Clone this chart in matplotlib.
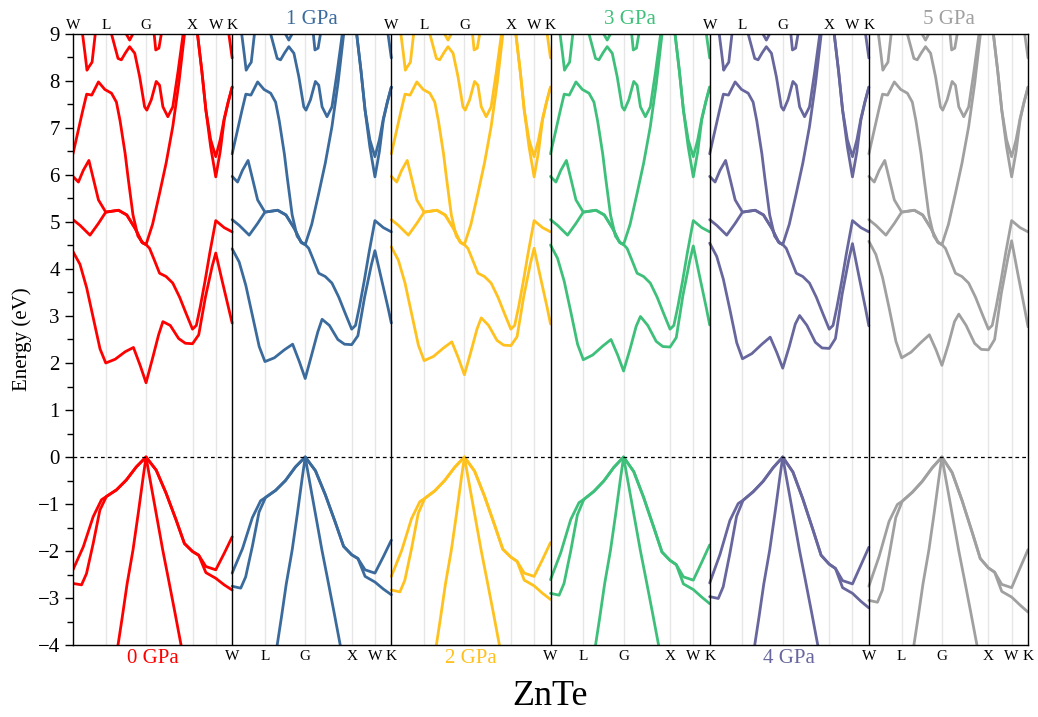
import matplotlib
matplotlib.use("Agg")
import matplotlib.pyplot as plt
from matplotlib.ticker import MultipleLocator
import matplotlib.transforms as mtransforms

# ZnTe band structure under pressure, six panels along W-L-G-X-W-K

pressures = ["0 GPa", "1 GPa", "2 GPa", "3 GPa", "4 GPa", "5 GPa"]
colors = ["#FF0000", "#3B6B9C", "#FFC11E", "#3EC07A", "#67679E", "#A0A0A0"]
kpos = [0.0, 0.206, 0.459, 0.751, 0.897, 1.0]
knames = ["W", "L", "G", "X", "W", "K"]

# valence bands (change with pressure)
k_vb_up = [0, .065, .127, .179, .21, .273, .335, .398, .459, .523, .585, .648, .70, .751, .79, .835, .897, .95, 1.0]
vb_up = [
    [-2.40, -1.91, -1.27, -0.91, -0.84, -0.70, -0.49, -0.21, 0, -0.28, -0.77, -1.34, -1.84, -2.01, -2.09, -2.33, -2.40, -2.05, -1.70],
    [-2.47, -1.95, -1.29, -0.93, -0.86, -0.71, -0.50, -0.21, 0, -0.29, -0.80, -1.39, -1.90, -2.08, -2.16, -2.40, -2.47, -2.12, -1.77],
    [-2.54, -1.99, -1.31, -0.95, -0.88, -0.72, -0.50, -0.22, 0, -0.30, -0.83, -1.44, -1.96, -2.13, -2.22, -2.47, -2.54, -2.18, -1.82],
    [-2.61, -2.03, -1.33, -0.97, -0.90, -0.73, -0.51, -0.22, 0, -0.31, -0.86, -1.49, -2.02, -2.20, -2.29, -2.55, -2.62, -2.24, -1.87],
    [-2.68, -2.07, -1.35, -0.99, -0.92, -0.74, -0.52, -0.23, 0, -0.32, -0.89, -1.54, -2.09, -2.28, -2.37, -2.63, -2.70, -2.30, -1.92],
    [-2.75, -2.11, -1.37, -1.01, -0.94, -0.75, -0.52, -0.23, 0, -0.33, -0.92, -1.59, -2.16, -2.36, -2.45, -2.71, -2.78, -2.36, -1.97],
]
k_vb_lo = [0, .054, .085, .127, .169, .21, .273, .335, .398, .459, .523, .585, .648, .70, .751, .79, .835, .897, .95, 1.0]
vb_lo = [
    [-2.69, -2.72, -2.48, -1.84, -1.13, -0.84, -0.70, -0.49, -0.21, 0, -0.28, -0.77, -1.34, -1.84, -2.01, -2.09, -2.46, -2.58, -2.72, -2.83],
    [-2.75, -2.79, -2.55, -1.90, -1.17, -0.86, -0.71, -0.50, -0.21, 0, -0.29, -0.80, -1.39, -1.90, -2.08, -2.16, -2.54, -2.66, -2.81, -2.93],
    [-2.83, -2.87, -2.62, -1.95, -1.20, -0.88, -0.72, -0.50, -0.22, 0, -0.30, -0.83, -1.44, -1.96, -2.13, -2.22, -2.62, -2.74, -2.90, -3.03],
    [-2.90, -2.94, -2.69, -2.00, -1.23, -0.90, -0.73, -0.51, -0.22, 0, -0.31, -0.86, -1.49, -2.02, -2.20, -2.29, -2.70, -2.82, -2.98, -3.12],
    [-2.97, -3.01, -2.76, -2.05, -1.26, -0.92, -0.74, -0.52, -0.23, 0, -0.32, -0.89, -1.54, -2.09, -2.28, -2.37, -2.78, -2.90, -3.07, -3.21],
    [-3.05, -3.09, -2.83, -2.10, -1.29, -0.94, -0.75, -0.52, -0.23, 0, -0.33, -0.92, -1.59, -2.16, -2.36, -2.45, -2.86, -2.98, -3.15, -3.30],
]
k_vb3 = [.26, .283, .31, .34, .377, .41, .44, .459, .48, .52, .564, .60, .64, .679, .70]
vb3 = [-4.5, -4.0, -3.4, -2.7, -1.98, -1.2, -0.45, 0, -0.4, -1.15, -1.98, -2.6, -3.3, -4.0, -4.4]

# lowest conduction band (changes with pressure)
k_cb1 = [0, .044, .086, .128, .170, .206, .265, .328, .38, .422, .459, .50, .538, .565, .611, .664, .706, .751, .79, .832, .874, .897, .937, .979, 1.0]
cb1 = [
    [4.37, 4.10, 3.60, 2.95, 2.30, 2.00, 2.08, 2.24, 2.33, 1.95, 1.58, 2.10, 2.60, 2.88, 2.80, 2.52, 2.42, 2.41, 2.60, 3.40, 4.05, 4.34, 3.75, 3.15, 2.85],
    [4.43, 4.15, 3.65, 3.00, 2.35, 2.03, 2.11, 2.28, 2.40, 2.03, 1.67, 2.18, 2.66, 2.93, 2.80, 2.50, 2.40, 2.39, 2.58, 3.40, 4.08, 4.39, 3.80, 3.18, 2.85],
    [4.47, 4.19, 3.70, 3.04, 2.38, 2.05, 2.14, 2.32, 2.45, 2.10, 1.75, 2.24, 2.72, 2.96, 2.80, 2.48, 2.38, 2.37, 2.56, 3.42, 4.12, 4.44, 3.82, 3.18, 2.83],
    [4.51, 4.23, 3.74, 3.08, 2.40, 2.07, 2.17, 2.36, 2.50, 2.17, 1.83, 2.30, 2.78, 2.99, 2.80, 2.46, 2.35, 2.34, 2.54, 3.44, 4.16, 4.49, 3.84, 3.17, 2.81],
    [4.55, 4.27, 3.78, 3.12, 2.43, 2.09, 2.20, 2.40, 2.55, 2.22, 1.89, 2.35, 2.83, 3.01, 2.80, 2.44, 2.32, 2.31, 2.52, 3.46, 4.20, 4.54, 3.86, 3.16, 2.79],
    [4.59, 4.31, 3.82, 3.16, 2.46, 2.11, 2.23, 2.44, 2.60, 2.28, 1.95, 2.40, 2.88, 3.04, 2.80, 2.42, 2.29, 2.28, 2.50, 3.48, 4.24, 4.60, 3.88, 3.15, 2.77],
]

# higher conduction bands (same in every panel at this scale)
k_cb2 = [0, .044, .107, .16, .206, .286, .338, .391, .433, .459, .481, .51, .544, .585, .627, .67, .71, .751, .775, .80, .83, .86, .897, .95, 1.0]
cb2 = [5.05, 4.93, 4.72, 4.97, 5.21, 5.25, 5.15, 4.86, 4.57, 4.52, 4.44, 4.20, 3.91, 3.84, 3.70, 3.40, 3.06, 2.72, 2.80, 3.20, 3.75, 4.35, 5.03, 4.88, 4.79]
k_cb3 = [0, .034, .065, .10, .128, .16, .206, .286, .338, .391, .433, .459, .50, .544, .585, .627, .665, .70, .73, .751, .77, .783, .81, .835, .865, .897, .925, .95, .975, 1.0]
cb3 = [5.97, 5.85, 6.10, 6.31, 5.92, 5.47, 5.21, 5.25, 5.15, 4.86, 4.57, 4.52, 4.95, 5.61, 6.25, 7.03, 7.95, 8.98, 9.8, 10.1, 9.6, 8.98, 8.2, 7.38, 6.6, 5.96, 6.5, 7.17, 7.55, 7.87]
k_cb4 = [0, .03, .06, .086, .118, .16, .20, .242, .273, .296, .328, .346, .377, .408, .44, .459]
cb4 = [6.45, 6.90, 7.35, 7.72, 7.70, 7.98, 7.82, 7.74, 7.55, 7.15, 6.45, 5.95, 5.15, 4.70, 4.55, 4.52]
k_cb5 = [.76, .783, .81, .835, .865, .897, .925, .95, .975, 1.0]
cb5 = [9.6, 8.98, 8.2, 7.38, 6.75, 6.39, 6.75, 7.2, 7.55, 7.87]
k_cb6 = [.955, .98, 1.0]
cb6 = [9.4, 8.98, 8.49]
k_cb7 = [.05, .06, .075, .088, .10, .12, .14, .15]
cb7 = [9.4, 9.0, 8.6, 8.23, 8.3, 8.4, 9.0, 9.3]
k_cb8 = [.23, .242, .283, .304, .33, .356, .388, .419, .45, .464, .492, .523, .544, .565, .596, .627, .66, .69, .70]
cb8 = [9.3, 9.0, 8.48, 8.45, 8.6, 8.73, 8.59, 8.09, 7.45, 7.38, 7.60, 7.99, 7.91, 7.45, 7.24, 7.45, 8.2, 8.95, 9.2]
k_cb9 = [.31, .356, .40]
cb9 = [9.15, 8.87, 9.15]
k_cb10 = [.50, .51, .52, .54, .555, .565]
cb10 = [9.3, 9.0, 8.66, 8.70, 9.0, 9.3]

plt.rcParams["font.family"] = "serif"
plt.rcParams["font.serif"] = ["Liberation Serif", "DejaVu Serif"]

fig = plt.figure(figsize=(10.38, 7.17), dpi=100)
ax = fig.add_axes([0.0703, 0.1004, 0.9201, 0.8522])

shared = [(k_vb3, vb3), (k_cb2, cb2), (k_cb3, cb3), (k_cb4, cb4), (k_cb5, cb5),
          (k_cb6, cb6), (k_cb7, cb7), (k_cb8, cb8), (k_cb9, cb9), (k_cb10, cb10)]

for i, col in enumerate(colors):
    # light grey high-symmetry lines
    for kp in kpos[1:-1]:
        ax.axvline(i + kp, color="#e6e6e6", lw=1.0, zorder=0)
    bands = [(k_vb_up, vb_up[i]), (k_vb_lo, vb_lo[i]), (k_cb1, cb1[i])] + shared
    for kk, ee in bands:
        ax.plot([i + k for k in kk], ee, color=col, lw=2.0, solid_joinstyle="round",
                solid_capstyle="round", zorder=2)
    if i > 0:
        ax.axvline(i, color="black", lw=1.0, zorder=3)

ax.axhline(0, color="black", lw=0.9, ls=(0, (3, 2.5)), zorder=3)

trans = mtransforms.blended_transform_factory(ax.transData, ax.transAxes)
for i, col in enumerate(colors):
    top = (i % 2 == 0)
    ky, kva = (1.004, "bottom") if top else (-0.008, "top")
    py, pva = (-0.006, "top") if top else (1.008, "bottom")
    for kp, name in zip(kpos, knames):
        ax.text(i + kp, ky, name, transform=trans, ha="center", va=kva, fontsize=11)
    ax.text(i + 0.5, py, pressures[i], transform=trans, ha="center", va=pva,
            fontsize=15, color=col)

ax.set_xlim(0, 6)
ax.set_ylim(-4, 9)
ax.set_xticks([])
ax.yaxis.set_major_locator(MultipleLocator(1))
ax.yaxis.set_minor_locator(MultipleLocator(0.5))
ax.tick_params(axis="y", which="major", direction="out", length=6, width=1.0, labelsize=15)
ax.tick_params(axis="y", which="minor", direction="out", length=4, width=1.0)
ax.set_ylabel("Energy (eV)", fontsize=15, labelpad=4)
for s in ax.spines.values():
    s.set_linewidth(1.0)

ax.text(0.5, -0.085, "ZnTe", transform=ax.transAxes, ha="center", va="center", fontsize=26)

fig.savefig("out.png", dpi=100)
